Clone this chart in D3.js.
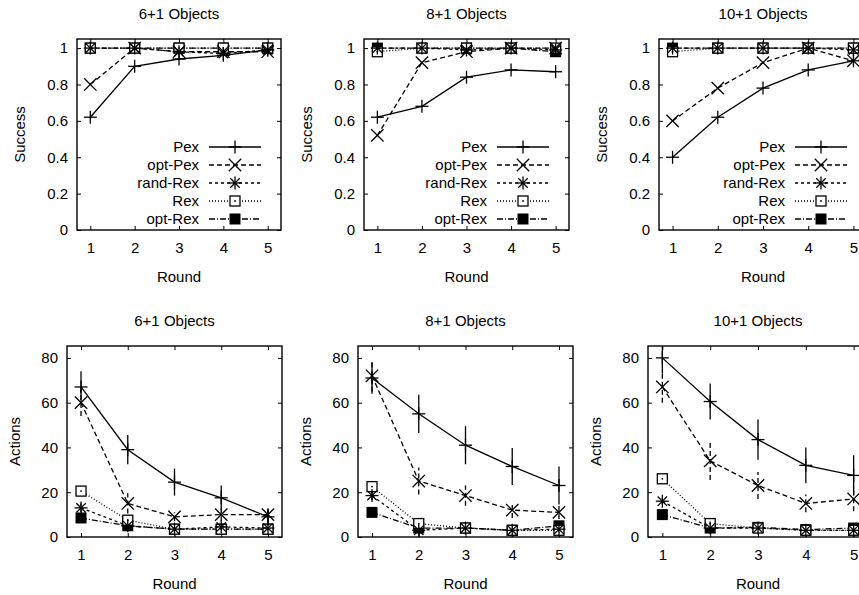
<!DOCTYPE html>
<html><head><meta charset="utf-8">
<script src="https://cdn.jsdelivr.net/npm/d3@7"></script>
<style>
html,body{margin:0;padding:0;background:#fff;overflow:hidden}
svg{display:block;font-family:"Liberation Sans",Arial,Helvetica,sans-serif}
</style></head>
<body>
<svg id="c" width="859" height="595"></svg>
<script>
// ---------- data ----------
const rounds = [1, 2, 3, 4, 5];
const seriesNames = ["Pex", "opt-Pex", "rand-Rex", "Rex", "opt-Rex"];
const panelTitles = ["6+1 Objects", "8+1 Objects", "10+1 Objects"];
const successTicks = [0, 0.2, 0.4, 0.6, 0.8, 1];
const actionTicks = [0, 20, 40, 60, 80];

// Success (rows follow seriesNames)
const success6 = [
  [0.62, 0.90, 0.94, 0.96, 0.99],
  [0.80, 1.00, 0.98, 0.98, 0.98],
  [1.00, 1.00, 0.98, 0.97, 0.99],
  [1.00, 1.00, 1.00, 1.00, 1.00],
  [1.00, 1.00, 1.00, 1.00, 1.00]
];
const success8 = [
  [0.62, 0.68, 0.84, 0.88, 0.87],
  [0.52, 0.92, 0.98, 1.00, 1.00],
  [1.00, 1.00, 0.99, 1.00, 0.99],
  [0.98, 1.00, 1.00, 1.00, 1.00],
  [1.00, 1.00, 1.00, 1.00, 0.98]
];
const success10 = [
  [0.40, 0.62, 0.78, 0.88, 0.93],
  [0.60, 0.78, 0.92, 1.00, 0.93],
  [1.00, 1.00, 1.00, 1.00, 0.99],
  [0.98, 1.00, 1.00, 1.00, 1.00],
  [1.00, 1.00, 1.00, 1.00, 1.00]
];

// Actions mean and error (rows follow seriesNames)
const actions6 = [
  [67, 39, 24.5, 17.5, 9],
  [60, 15, 9, 10, 10],
  [13, 5, 3.5, 4.5, 4],
  [20.5, 7.5, 3.5, 3.5, 3.5],
  [8.5, 5, 3.5, 3.5, 3.5]
];
const actions6Err = [
  [7, 6.5, 6, 5.5, 3.5],
  [6, 4.5, 2, 3, 3],
  [2, 1, 0.5, 1, 0.5],
  [1.5, 1, 0.5, 0.5, 0.5],
  [1, 0.5, 0.5, 0.5, 0.5]
];
const actions8 = [
  [71, 55, 41, 31.5, 23],
  [72, 25, 18.5, 12, 11],
  [18.5, 3, 4, 3, 3.5],
  [22.5, 6, 4, 3, 3],
  [11, 4, 4, 3, 5]
];
const actions8Err = [
  [7, 8.5, 8.5, 8.3, 8.5],
  [7, 6, 4.5, 3.5, 3],
  [2, 1.5, 0.5, 0.5, 1],
  [1.5, 1, 0.5, 0.5, 0.5],
  [1, 0.5, 0.5, 0.5, 1]
];
const actions10 = [
  [80, 60.5, 43.5, 32, 27.5],
  [67, 34, 23, 15, 17],
  [16, 4, 4, 3, 3],
  [26, 6, 4, 3, 3],
  [10, 4, 4.3, 3.3, 4]
];
const actions10Err = [
  [7, 8, 9, 8, 9],
  [7, 8.5, 6, 4, 5.5],
  [1.5, 1, 0.5, 0.5, 0.5],
  [1.5, 1, 0.5, 0.5, 0.5],
  [1, 0.5, 0.5, 0.5, 0.5]
];

// ---------- styles ----------
const dashes = [null, "5,3", "3,3", "1,2", "6,2,1,2"];
const markers = ["plus", "cross", "star", "box", "fbox"];
const FS = 15;
const LW = 1.3;

const svg = d3.select("#c");
let clipId = 0;

function drawMarker(g, type, x, y) {
  const s = 6.5;
  const m = g.append("g").attr("transform", `translate(${x},${y})`)
    .attr("stroke", "#000").attr("stroke-width", LW).attr("fill", "none");
  if (type === "plus" || type === "star") {
    m.append("line").attr("x1", -s).attr("x2", s).attr("y1", 0).attr("y2", 0);
    m.append("line").attr("x1", 0).attr("x2", 0).attr("y1", -s).attr("y2", s);
  }
  if (type === "cross" || type === "star") {
    const c = type === "star" ? s * 0.72 : s * 0.95;
    m.append("line").attr("x1", -c).attr("x2", c).attr("y1", -c).attr("y2", c);
    m.append("line").attr("x1", -c).attr("x2", c).attr("y1", c).attr("y2", -c);
  }
  if (type === "box") {
    m.append("rect").attr("x", -5).attr("y", -5).attr("width", 10).attr("height", 10).attr("fill", "#fff");
    m.append("circle").attr("r", 0.9).attr("fill", "#000").attr("stroke", "none");
  }
  if (type === "fbox") {
    m.append("rect").attr("x", -5.5).attr("y", -5.5).attr("width", 11).attr("height", 11)
      .attr("fill", "#000").attr("stroke", "none");
  }
}

function panel(opts) {
  const {left, right, top, bottom, yDomain, yTicks, yFmt, data, err, title, ylabel, legend, ylabOff} = opts;
  const x = d3.scaleLinear().domain([0.7, 5.3]).range([left, right]);
  const y = d3.scaleLinear().domain(yDomain).range([bottom, top]);
  const g = svg.append("g");

  const id = "clip" + (clipId++);
  svg.append("clipPath").attr("id", id).append("rect")
    .attr("x", left).attr("y", top).attr("width", right - left).attr("height", bottom - top);

  const tl = 4;
  const style = a => {
    a.select(".domain").remove();
    a.selectAll("text").attr("font-size", FS).attr("fill", "#000").attr("font-family", null);
    a.selectAll("line").attr("stroke", "#000");
  };
  g.append("g").attr("transform", `translate(0,${bottom})`)
    .call(d3.axisBottom(x).tickValues(rounds).tickSize(-tl).tickPadding(12).tickFormat(d3.format("d")))
    .call(style);
  g.append("g").attr("transform", `translate(0,${top})`)
    .call(d3.axisTop(x).tickValues(rounds).tickSize(-tl).tickFormat(""))
    .call(style);
  g.append("g").attr("transform", `translate(${left},0)`)
    .call(d3.axisLeft(y).tickValues(yTicks).tickSize(-tl).tickPadding(9).tickFormat(yFmt))
    .call(style);
  g.append("g").attr("transform", `translate(${right},0)`)
    .call(d3.axisRight(y).tickValues(yTicks).tickSize(-tl).tickFormat(""))
    .call(style);

  g.append("text").attr("x", (left + right) / 2).attr("y", top - 20).attr("text-anchor", "middle")
    .attr("font-size", FS).text(title);
  g.append("text").attr("x", (left + right) / 2).attr("y", bottom + 52).attr("text-anchor", "middle")
    .attr("font-size", FS).text("Round");
  g.append("text").attr("transform", `translate(${left - ylabOff},${(top + bottom) / 2}) rotate(-90)`)
    .attr("text-anchor", "middle").attr("dy", "0.35em").attr("font-size", FS).text(ylabel);

  if (legend) {
    seriesNames.forEach((name, i) => {
      const ly = bottom - 11 - (seriesNames.length - 1 - i) * 18;
      const x1 = right - 72, x2 = right - 20;
      g.append("text").attr("x", x1 - 10).attr("y", ly).attr("dy", "0.35em")
        .attr("text-anchor", "end").attr("font-size", FS).text(name);
      g.append("line").attr("x1", x1).attr("x2", x2).attr("y1", ly).attr("y2", ly)
        .attr("stroke", "#000").attr("stroke-width", LW).attr("stroke-dasharray", dashes[i]);
      drawMarker(g, markers[i], (x1 + x2) / 2, ly);
    });
  }

  const dg = g.append("g").attr("clip-path", `url(#${id})`);
  const line = d3.line().x((d, j) => x(rounds[j])).y(d => y(d));
  for (let i = seriesNames.length - 1; i >= 0; i--) {
    const vals = data[i];
    if (err) {
      vals.forEach((v, j) => {
        dg.append("line").attr("x1", x(rounds[j])).attr("x2", x(rounds[j]))
          .attr("y1", y(v - err[i][j])).attr("y2", y(v + err[i][j]))
          .attr("stroke", "#000").attr("stroke-width", LW).attr("stroke-dasharray", dashes[i]);
      });
    }
    dg.append("path").datum(vals).attr("d", line).attr("fill", "none")
      .attr("stroke", "#000").attr("stroke-width", LW).attr("stroke-dasharray", dashes[i]);
    vals.forEach((v, j) => drawMarker(dg, markers[i], x(rounds[j]), y(v)));
  }

  g.append("rect").attr("x", left).attr("y", top).attr("width", right - left).attr("height", bottom - top)
    .attr("fill", "none").attr("stroke", "#000").attr("stroke-width", 1.4);
}

const topLefts = [77, 364, 659], topRights = [281, 569, 867];
const botLefts = [67, 358, 648], botRights = [282, 573, 868];
const successData = [success6, success8, success10];
const actionsData = [actions6, actions8, actions10];
const actionsErr = [actions6Err, actions8Err, actions10Err];

for (let k = 0; k < 3; k++) {
  panel({left: topLefts[k], right: topRights[k], top: 39, bottom: 230, yDomain: [0, 1.05],
    yTicks: successTicks, yFmt: d3.format("~g"), data: successData[k], err: null,
    title: panelTitles[k], ylabel: "Success", legend: true, ylabOff: 57});
  panel({left: botLefts[k], right: botRights[k], top: 346, bottom: 537, yDomain: [0, 85.3],
    yTicks: actionTicks, yFmt: d3.format("d"), data: actionsData[k], err: actionsErr[k],
    title: panelTitles[k], ylabel: "Actions", legend: false, ylabOff: 52});
}
</script>
</body></html>
